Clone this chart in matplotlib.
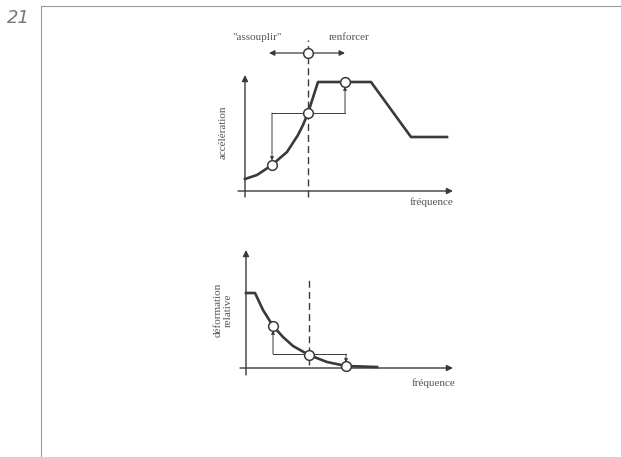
import matplotlib
matplotlib.use("Agg")
import matplotlib.pyplot as plt
from matplotlib.lines import Line2D

# ---------------- data ----------------
# top chart: acceleration vs frequency
acc_freq = [0, 1.2, 2.7, 3.5, 4.2, 5.3, 5.8, 6.3, 7.3, 12.6, 16.6, 20.2]
acc_val = [1.2, 1.6, 2.6, 3.3, 3.9, 5.6, 6.6, 7.8, 10.9, 10.9, 5.4, 5.4]
acc_pts_x = [2.7, 6.3, 10.0]
acc_pts_y = [2.6, 7.8, 10.9]
acc_ref_freq = 6.3

# bottom chart: relative deformation vs frequency
def_freq = [0, 0.9, 1.7, 2.7, 3.7, 4.7, 6.3, 8.1, 10.0, 13.1]
def_val = [7.5, 7.5, 5.8, 4.2, 3.1, 2.2, 1.3, 0.6, 0.2, 0.1]
def_pts_x = [2.7, 6.3, 10.0]
def_pts_y = [4.2, 1.3, 0.2]
def_ref_freq = 6.3

labels_top = ['"assouplir"', 'renforcer']
xlabel = 'fréquence'
ylabel_top = 'accélération'
ylabel_bot = 'déformation\nrelative'
fig_number = '21'

W, H = 621, 457
fig = plt.figure(figsize=(W / 100, H / 100), dpi=100)

TXT = '#555555'
LN = '#3a3a3a'
SERIF = 'Liberation Serif'
FS = 8


def make_ax(ox, oy, left, right, top, bottom):
    """axes whose data origin is at pixel (ox, oy), 1 unit = 10 px"""
    ax = fig.add_axes([left / W, (H - bottom) / H, (right - left) / W, (bottom - top) / H])
    ax.set_xlim((left - ox) / 10, (right - ox) / 10)
    ax.set_ylim((oy - bottom) / 10, (oy - top) / 10)
    ax.axis('off')
    return ax


def arrow(ax, x0, y0, x1, y1, lw=1.0, ms=9):
    ax.annotate('', xy=(x1, y1), xytext=(x0, y0),
                arrowprops=dict(arrowstyle='-|>', color=LN, lw=lw,
                                mutation_scale=ms, shrinkA=0, shrinkB=0))


# ---------- top chart ----------
ax1 = make_ax(245, 191, 200, 470, 25, 215)
arrow(ax1, -0.7, 0, 20.8, 0)
arrow(ax1, 0, -0.6, 0, 11.6)
ax1.plot(acc_freq, acc_val, color=LN, lw=1.9, solid_joinstyle='round', zorder=3)
ax1.plot([acc_ref_freq, acc_ref_freq], [-0.6, 15.1], color=LN, lw=1.0,
         dashes=(5, 3), zorder=2)
# step path
ax1.plot([acc_pts_x[0], acc_pts_x[2]], [acc_pts_y[1], acc_pts_y[1]], color=LN, lw=0.7)
arrow(ax1, acc_pts_x[0], acc_pts_y[1], acc_pts_x[0], acc_pts_y[0] + 0.45, lw=0.7, ms=5)
arrow(ax1, acc_pts_x[2], acc_pts_y[1], acc_pts_x[2], acc_pts_y[2] - 0.45, lw=0.7, ms=5)
# top horizontal arrows
arrow(ax1, acc_ref_freq, 13.8, 2.4, 13.8, lw=0.9, ms=8)
arrow(ax1, acc_ref_freq, 13.8, 10.0, 13.8, lw=0.9, ms=8)
ax1.plot(acc_pts_x, acc_pts_y, 'o', ms=7, mfc='white', mec=LN, mew=1.1, zorder=5)
ax1.plot([acc_ref_freq], [13.8], 'o', ms=7, mfc='white', mec=LN, mew=1.1, zorder=5)
ax1.text(1.2, 15.4, labels_top[0], ha='center', va='center', fontsize=FS,
         family=SERIF, color=TXT)
ax1.text(10.4, 15.4, labels_top[1], ha='center', va='center', fontsize=FS,
         family=SERIF, color=TXT)
ax1.text(-2.2, 5.9, ylabel_top, rotation=90, ha='center', va='center', fontsize=FS,
         family=SERIF, color=TXT)
ax1.text(18.7, -1.1, xlabel, ha='center', va='center', fontsize=FS,
         family=SERIF, color=TXT)

# ---------- bottom chart ----------
ax2 = make_ax(246, 368, 200, 470, 240, 395)
arrow(ax2, -0.6, 0, 20.7, 0)
arrow(ax2, 0, -0.7, 0, 11.8)
ax2.plot(def_freq, def_val, color=LN, lw=1.9, solid_joinstyle='round', zorder=3)
ax2.plot([def_ref_freq, def_ref_freq], [0.3, 9.0], color=LN, lw=1.0,
         dashes=(5, 3), zorder=2)
ax2.plot([def_pts_x[0], def_pts_x[2]], [1.4, 1.4], color=LN, lw=0.7)
arrow(ax2, def_pts_x[0], 1.4, def_pts_x[0], def_pts_y[0] - 0.45, lw=0.7, ms=5)
arrow(ax2, def_pts_x[2], 1.4, def_pts_x[2], def_pts_y[2] + 0.35, lw=0.7, ms=5)
ax2.plot(def_pts_x, def_pts_y, 'o', ms=7, mfc='white', mec=LN, mew=1.1, zorder=5)
ax2.text(-2.3, 5.8, ylabel_bot, rotation=90, ha='center', va='center', fontsize=FS,
         family=SERIF, color=TXT, linespacing=1.1)
ax2.text(18.7, -1.5, xlabel, ha='center', va='center', fontsize=FS,
         family=SERIF, color=TXT)

# ---------- frame and figure number ----------
fig.add_artist(Line2D([41 / W, 41 / W], [0, 1 - 6 / H], color='#9a9a9a', lw=0.8))
fig.add_artist(Line2D([41 / W, 1], [1 - 6 / H, 1 - 6 / H], color='#9a9a9a', lw=0.8))
fig.text(18 / W, 1 - 18 / H, fig_number, ha='center', va='center', fontsize=13,
         style='italic', color='#777777', family='DejaVu Sans')

fig.savefig('out.png', dpi=100, facecolor='white')
